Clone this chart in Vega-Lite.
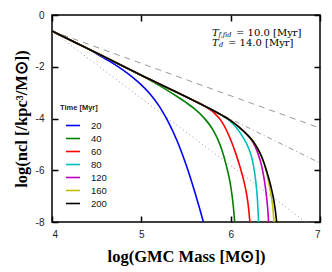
{
  "$schema": "https://vega.github.io/schema/vega-lite/v6.json",
  "width": 268,
  "height": 207,
  "autosize": {"type": "none"},
  "padding": {"left": 52, "top": 15, "right": 12, "bottom": 50},
  "background": "white",
  "config": {
    "view": {"stroke": "black", "strokeWidth": 1.5},
    "axis": {
      "domain": false, "grid": false,
      "labelFont": "Liberation Sans", "labelFontSize": 10, "labelColor": "#222",
      "tickColor": "black", "tickWidth": 1.5, "tickSize": -6,
      "titleFont": "Liberation Serif", "titleFontSize": 16.5, "titleFontWeight": "bold", "titleColor": "black"
    },
    "legend": {
      "orient": "none", "legendX": 8, "legendY": 89,
      "titleFont": "Liberation Sans", "titleFontSize": 7.5, "titleFontWeight": "bold", "titleColor": "#222",
      "labelFont": "Liberation Sans", "labelFontSize": 9.5, "labelColor": "#111",
      "symbolType": "stroke", "symbolSize": 200, "symbolStrokeWidth": 1.6,
      "symbolOffset": 5, "labelOffset": 10, "rowPadding": -1, "titlePadding": 6, "padding": 0
    }
  },
  "datasets": {
    "curves": [
      {"m": 4.0, "n": -0.62, "t": "20"}, {"m": 4.25, "n": -1.04, "t": "20"}, {"m": 4.4, "n": -1.3, "t": "20"}, {"m": 4.5, "n": -1.495, "t": "20"}, {"m": 4.6, "n": -1.7, "t": "20"}, {"m": 4.7, "n": -1.91, "t": "20"}, {"m": 4.8, "n": -2.14, "t": "20"}, {"m": 4.9, "n": -2.4, "t": "20"}, {"m": 5.0, "n": -2.7, "t": "20"}, {"m": 5.1, "n": -3.06, "t": "20"}, {"m": 5.2, "n": -3.52, "t": "20"}, {"m": 5.3, "n": -4.12, "t": "20"}, {"m": 5.4, "n": -4.86, "t": "20"}, {"m": 5.5, "n": -5.78, "t": "20"}, {"m": 5.6, "n": -6.86, "t": "20"}, {"m": 5.65, "n": -7.45, "t": "20"}, {"m": 5.695, "n": -8.0, "t": "20"},
      {"m": 4.0, "n": -0.62, "t": "40"}, {"m": 4.5, "n": -1.47, "t": "40"}, {"m": 5.0, "n": -2.34, "t": "40"}, {"m": 5.1, "n": -2.52, "t": "40"}, {"m": 5.2, "n": -2.72, "t": "40"}, {"m": 5.3, "n": -2.93, "t": "40"}, {"m": 5.4, "n": -3.15, "t": "40"}, {"m": 5.5, "n": -3.38, "t": "40"}, {"m": 5.6, "n": -3.64, "t": "40"}, {"m": 5.7, "n": -3.97, "t": "40"}, {"m": 5.8, "n": -4.43, "t": "40"}, {"m": 5.85, "n": -4.76, "t": "40"}, {"m": 5.9, "n": -5.2, "t": "40"}, {"m": 5.95, "n": -5.8, "t": "40"}, {"m": 6.0, "n": -6.6, "t": "40"}, {"m": 6.03, "n": -7.4, "t": "40"}, {"m": 6.045, "n": -8.0, "t": "40"},
      {"m": 4.0, "n": -0.62, "t": "60"}, {"m": 4.5, "n": -1.47, "t": "60"}, {"m": 5.0, "n": -2.33, "t": "60"}, {"m": 5.5, "n": -3.16, "t": "60"}, {"m": 5.7, "n": -3.5, "t": "60"}, {"m": 5.8, "n": -3.74, "t": "60"}, {"m": 5.9, "n": -4.12, "t": "60"}, {"m": 6.0, "n": -4.82, "t": "60"}, {"m": 6.05, "n": -5.28, "t": "60"}, {"m": 6.1, "n": -5.82, "t": "60"}, {"m": 6.15, "n": -6.45, "t": "60"}, {"m": 6.18, "n": -6.95, "t": "60"}, {"m": 6.2, "n": -7.45, "t": "60"}, {"m": 6.215, "n": -8.0, "t": "60"},
      {"m": 4.0, "n": -0.62, "t": "80"}, {"m": 4.5, "n": -1.47, "t": "80"}, {"m": 5.0, "n": -2.33, "t": "80"}, {"m": 5.5, "n": -3.16, "t": "80"}, {"m": 5.8, "n": -3.68, "t": "80"}, {"m": 5.9, "n": -3.88, "t": "80"}, {"m": 6.0, "n": -4.12, "t": "80"}, {"m": 6.05, "n": -4.3, "t": "80"}, {"m": 6.1, "n": -4.52, "t": "80"}, {"m": 6.15, "n": -4.8, "t": "80"}, {"m": 6.2, "n": -5.14, "t": "80"}, {"m": 6.25, "n": -5.72, "t": "80"}, {"m": 6.28, "n": -6.4, "t": "80"}, {"m": 6.3, "n": -7.15, "t": "80"}, {"m": 6.313, "n": -8.0, "t": "80"},
      {"m": 4.0, "n": -0.62, "t": "120"}, {"m": 4.5, "n": -1.47, "t": "120"}, {"m": 5.0, "n": -2.33, "t": "120"}, {"m": 5.5, "n": -3.16, "t": "120"}, {"m": 5.8, "n": -3.68, "t": "120"}, {"m": 5.9, "n": -3.87, "t": "120"}, {"m": 6.0, "n": -4.08, "t": "120"}, {"m": 6.1, "n": -4.35, "t": "120"}, {"m": 6.2, "n": -4.68, "t": "120"}, {"m": 6.25, "n": -4.92, "t": "120"}, {"m": 6.3, "n": -5.3, "t": "120"}, {"m": 6.35, "n": -5.88, "t": "120"}, {"m": 6.38, "n": -6.45, "t": "120"}, {"m": 6.4, "n": -6.98, "t": "120"}, {"m": 6.415, "n": -7.5, "t": "120"}, {"m": 6.425, "n": -8.0, "t": "120"},
      {"m": 4.0, "n": -0.62, "t": "160"}, {"m": 4.5, "n": -1.47, "t": "160"}, {"m": 5.0, "n": -2.33, "t": "160"}, {"m": 5.5, "n": -3.16, "t": "160"}, {"m": 5.8, "n": -3.68, "t": "160"}, {"m": 5.9, "n": -3.87, "t": "160"}, {"m": 6.0, "n": -4.08, "t": "160"}, {"m": 6.1, "n": -4.35, "t": "160"}, {"m": 6.2, "n": -4.68, "t": "160"}, {"m": 6.25, "n": -4.88, "t": "160"}, {"m": 6.3, "n": -5.15, "t": "160"}, {"m": 6.35, "n": -5.52, "t": "160"}, {"m": 6.4, "n": -6.06, "t": "160"}, {"m": 6.44, "n": -6.72, "t": "160"}, {"m": 6.47, "n": -7.38, "t": "160"}, {"m": 6.485, "n": -8.0, "t": "160"},
      {"m": 4.0, "n": -0.62, "t": "200"}, {"m": 4.5, "n": -1.47, "t": "200"}, {"m": 5.0, "n": -2.33, "t": "200"}, {"m": 5.5, "n": -3.16, "t": "200"}, {"m": 5.8, "n": -3.68, "t": "200"}, {"m": 5.9, "n": -3.87, "t": "200"}, {"m": 6.0, "n": -4.08, "t": "200"}, {"m": 6.1, "n": -4.35, "t": "200"}, {"m": 6.2, "n": -4.68, "t": "200"}, {"m": 6.25, "n": -4.88, "t": "200"}, {"m": 6.3, "n": -5.15, "t": "200"}, {"m": 6.35, "n": -5.5, "t": "200"}, {"m": 6.4, "n": -6.0, "t": "200"}, {"m": 6.45, "n": -6.62, "t": "200"}, {"m": 6.48, "n": -7.1, "t": "200"}, {"m": 6.5, "n": -7.55, "t": "200"}, {"m": 6.515, "n": -8.0, "t": "200"}
    ],
    "refs": [
      {"m": 4.0, "n": -0.62, "s": "dash"}, {"m": 7.0, "n": -4.37, "s": "dash"},
      {"m": 4.0, "n": -0.62, "s": "dashdot"}, {"m": 7.0, "n": -5.72, "s": "dashdot"},
      {"m": 4.0, "n": -0.62, "s": "dot"}, {"m": 6.84, "n": -8.0, "s": "dot"}
    ],
    "notes": [
      {"m": 5.79, "n": -0.7, "label": "T", "role": "sym"},
      {"m": 5.865, "n": -0.78, "label": "f,fid", "role": "sub"},
      {"m": 6.06, "n": -0.7, "label": "= 10.0 [Myr]", "role": "val"},
      {"m": 5.79, "n": -1.08, "label": "T", "role": "sym"},
      {"m": 5.87, "n": -1.16, "label": "d", "role": "sub"},
      {"m": 5.97, "n": -1.08, "label": "= 14.0 [Myr]", "role": "val"}
    ]
  },
  "layer": [
    {
      "data": {"name": "refs"},
      "mark": {"type": "line", "color": "#999999", "strokeWidth": 1, "clip": true},
      "encoding": {
        "x": {"field": "m", "type": "quantitative", "scale": {"domain": [4, 7], "nice": false, "zero": false},
              "axis": {"orient": "bottom", "values": [4, 5, 6, 7], "title": "log(GMC Mass [M⊙])", "labelPadding": 13, "titlePadding": 9}},
        "y": {"field": "n", "type": "quantitative", "scale": {"domain": [-8, 0], "nice": false, "zero": false},
              "axis": {"orient": "left", "values": [0, -2, -4, -6, -8], "labelExpr": "'' + datum.value", "title": "log(ncl [/kpc³/M⊙])", "labelPadding": 14, "titlePadding": 6}},
        "detail": {"field": "s"},
        "strokeDash": {"field": "s", "type": "nominal", "legend": null,
                       "scale": {"domain": ["dash", "dashdot", "dot"], "range": [[6, 5], [5, 3, 1, 3], [1, 3]]}}
      }
    },
    {
      "data": {"name": "curves"},
      "transform": [{"filter": "datum.t != '200'"}],
      "mark": {"type": "line", "strokeWidth": 1.6, "interpolate": "monotone", "clip": true},
      "encoding": {
        "x": {"field": "m", "type": "quantitative", "axis": null},
        "y": {"field": "n", "type": "quantitative", "axis": null},
        "color": {"field": "t", "type": "nominal", "title": "Time [Myr]",
                  "scale": {"domain": ["20", "40", "60", "80", "120", "160", "200"],
                            "range": ["#0000ff", "#008000", "#ff0000", "#00bfbf", "#bf00bf", "#bfbf00", "#000000"]}}
      }
    },
    {
      "data": {"name": "curves"},
      "transform": [{"filter": "datum.t == '200'"}],
      "mark": {"type": "line", "strokeWidth": 1.6, "interpolate": "monotone", "clip": true},
      "encoding": {
        "x": {"field": "m", "type": "quantitative", "axis": null},
        "y": {"field": "n", "type": "quantitative", "axis": null},
        "color": {"field": "t", "type": "nominal", "title": "Time [Myr]"}
      }
    },
    {
      "data": {"name": "notes"},
      "transform": [{"filter": "datum.role == 'sym'"}],
      "mark": {"type": "text", "font": "DejaVu Serif", "fontStyle": "italic", "fontSize": 10, "align": "left", "baseline": "middle", "color": "black"},
      "encoding": {
        "x": {"field": "m", "type": "quantitative", "axis": null},
        "y": {"field": "n", "type": "quantitative", "axis": null},
        "text": {"field": "label"}
      }
    },
    {
      "data": {"name": "notes"},
      "transform": [{"filter": "datum.role == 'sub'"}],
      "mark": {"type": "text", "font": "DejaVu Serif", "fontStyle": "italic", "fontSize": 6.5, "align": "left", "baseline": "middle", "color": "black"},
      "encoding": {
        "x": {"field": "m", "type": "quantitative", "axis": null},
        "y": {"field": "n", "type": "quantitative", "axis": null},
        "text": {"field": "label"}
      }
    },
    {
      "data": {"name": "notes"},
      "transform": [{"filter": "datum.role == 'val'"}],
      "mark": {"type": "text", "font": "DejaVu Serif", "fontSize": 10, "align": "left", "baseline": "middle", "color": "black"},
      "encoding": {
        "x": {"field": "m", "type": "quantitative", "axis": null},
        "y": {"field": "n", "type": "quantitative", "axis": null},
        "text": {"field": "label"}
      }
    },
    {
      "data": {"name": "refs"},
      "mark": {"type": "line", "opacity": 0},
      "encoding": {
        "x": {"field": "m", "type": "quantitative", "axis": {"orient": "top", "values": [4, 5, 6, 7], "labels": false, "title": null}},
        "y": {"field": "n", "type": "quantitative", "axis": {"orient": "right", "values": [0, -2, -4, -6, -8], "labels": false, "title": null}},
        "detail": {"field": "s"}
      }
    }
  ],
  "resolve": {"axis": {"x": "independent", "y": "independent"}}
}
